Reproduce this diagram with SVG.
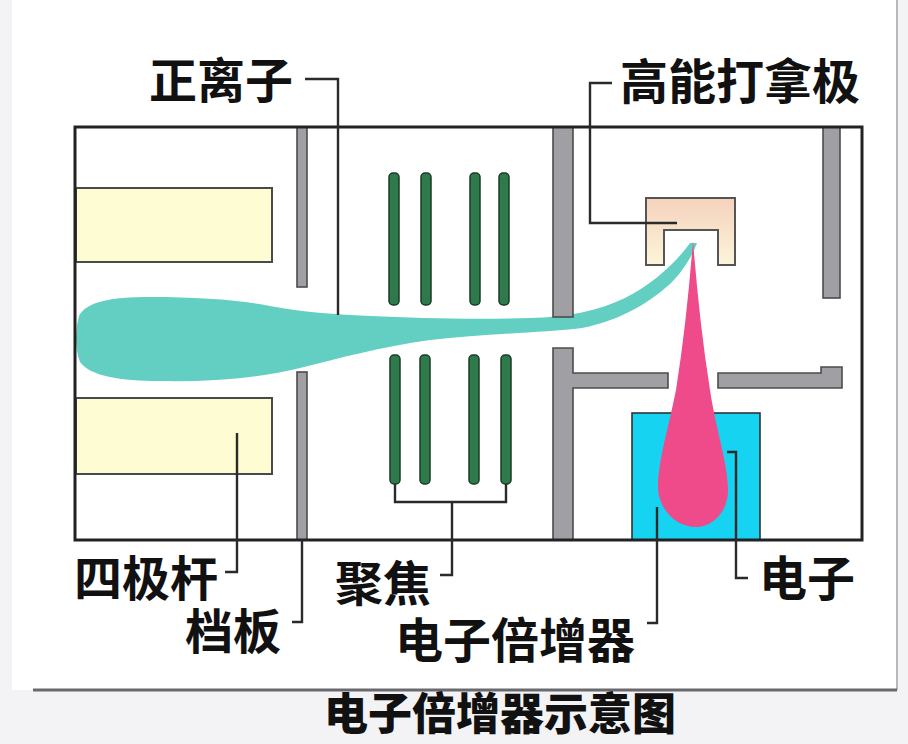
<svg xmlns="http://www.w3.org/2000/svg" width="908" height="744" viewBox="0 0 908 744">
  <style>
    .frame { fill: none; stroke: #222; stroke-width: 3; }
    .rod { fill: #fdfcd2; stroke: #4a4a4a; stroke-width: 2; }
    .plate { fill: #a0a0a4; stroke: #4c4c4c; stroke-width: 1.6; }
    .lens { fill: #2e7a4b; stroke: #1b3b29; stroke-width: 1.5; }
    .lead { fill: none; stroke: #2a2a2a; stroke-width: 2.4; }
    .label { font-family: "Noto Sans CJK SC", "Noto Sans", sans-serif; font-weight: 700; font-size: 48px; fill: #111; }
    .title { font-family: "Noto Sans CJK SC", "Noto Sans", sans-serif; font-weight: 900; font-size: 44px; fill: #111; }
  </style>
  <defs>
    <linearGradient id="dynodeFill" x1="0" y1="0" x2="0" y2="1">
      <stop offset="0" stop-color="#f5d2bc"/>
      <stop offset="1" stop-color="#fbf5da"/>
    </linearGradient>
  </defs>

  <!-- page and card -->
  <rect x="0" y="0" width="908" height="744" fill="#f3f3f5"/>
  <rect x="12" y="0" width="885" height="690" fill="#ffffff"/>
  <line x1="897" y1="0" x2="897" y2="690" stroke="#b8b8bc" stroke-width="2"/>
  <line x1="33" y1="690" x2="897" y2="690" stroke="#6a6a6e" stroke-width="3"/>

  <!-- ion beam -->
  <g id="ion-beam">
    <path fill="#63cfc3" d="M690,243 C678,260 655,283 625,298 C598,311 568,317 530,318 C470,320 420,318 370,316 C330,314 300,312 270,306 C240,300 200,297 150,297 C110,297 86,302 79,316 C75,330 75,350 80,362 C90,376 120,381 160,381 C210,382 260,378 300,368 C340,358 380,347 430,340 C480,334 540,333 582,328 C622,320 650,302 670,284 C684,270 692,256 697,243 Z"/>
  </g>

  <!-- electron multiplier box -->
  <g id="multiplier">
    <rect x="632" y="413" width="128" height="127" fill="#17d3f2" stroke="#333" stroke-width="1.6"/>
  </g>

  <!-- electron plume -->
  <g id="electrons">
    <path fill="#ef4b8b" d="M693,241 C697,290 702,340 710,390 C716,430 727,460 728,488 C729,510 714,527 696,527 C676,527 660,510 658,490 C657,465 668,430 676,390 C684,340 689,290 693,241 Z"/>
  </g>

  <!-- quadrupole rods -->
  <g id="quadrupole">
    <rect class="rod" x="76" y="188" width="196" height="74"/>
    <rect class="rod" x="76" y="398" width="196" height="76"/>
  </g>

  <!-- baffle -->
  <g id="baffle">
    <rect class="plate" x="297" y="127" width="10" height="160" fill="#c9c9cc"/>
    <rect class="plate" x="297" y="372" width="10" height="168" fill="#c9c9cc"/>
  </g>

  <!-- focusing lens plates -->
  <g id="focus-lens">
    <rect class="lens" x="389" y="173" width="10" height="132" rx="4"/>
    <rect class="lens" x="421" y="173" width="10" height="132" rx="4"/>
    <rect class="lens" x="470" y="173" width="10" height="132" rx="4"/>
    <rect class="lens" x="499" y="173" width="10" height="132" rx="4"/>
    <rect class="lens" x="390" y="355" width="10" height="129" rx="4"/>
    <rect class="lens" x="420" y="355" width="10" height="129" rx="4"/>
    <rect class="lens" x="469" y="355" width="10" height="129" rx="4"/>
    <rect class="lens" x="501" y="355" width="10" height="129" rx="4"/>
  </g>

  <!-- grey shielding walls -->
  <g id="shield">
    <rect class="plate" x="553" y="127" width="20" height="190"/>
    <path class="plate" d="M553,348 H573 V373 H668 V388 H573 V540 H553 Z"/>
    <rect class="plate" x="823" y="127" width="17" height="171"/>
    <path class="plate" d="M718,373 H821 V367 H842 V388 H718 Z"/>
  </g>

  <!-- dynode -->
  <g id="dynode">
    <path d="M646,198 H735 V265 H718 V230 H664 V265 H646 Z" fill="url(#dynodeFill)" stroke="#555" stroke-width="2"/>
  </g>

  <!-- outer housing -->
  <g id="housing">
    <rect class="frame" x="75" y="127" width="787" height="413"/>
  </g>

  <!-- leader lines -->
  <g id="connectors">
    <polyline class="lead" points="305,79 338,79 338,315"/>
    <polyline class="lead" points="612,83 590,83 590,223 677,223"/>
    <polyline class="lead" points="237,433 237,572 225,572"/>
    <polyline class="lead" points="302,540 302,622 292,622"/>
    <polyline class="lead" points="395,484 395,502 506,502 506,484"/>
    <polyline class="lead" points="452,502 452,575 440,575"/>
    <polyline class="lead" points="657,507 657,623 647,623"/>
    <polyline class="lead" points="727,452 736,452 736,578 748,578"/>
  </g>

  <!-- labels -->
  <g id="labels">
    <text class="label" x="149" y="98">正离子</text>
    <text class="label" x="620" y="99">高能打拿极</text>
    <text class="label" x="74" y="596">四极杆</text>
    <text class="label" x="185" y="649">档板</text>
    <text class="label" x="335" y="601">聚焦</text>
    <text class="label" x="395" y="658">电子倍增器</text>
    <text class="label" x="759" y="596">电子</text>
  </g>

  <text class="title" x="500" y="730" text-anchor="middle">电子倍增器示意图</text>
</svg>
